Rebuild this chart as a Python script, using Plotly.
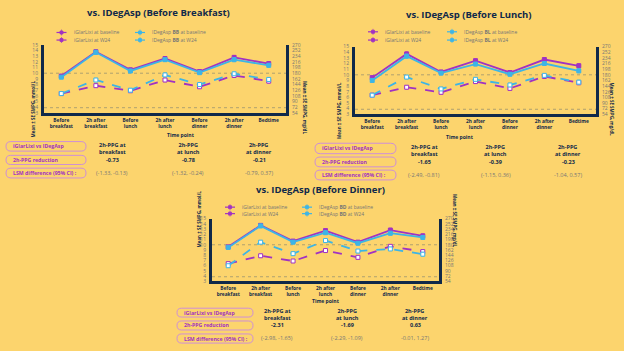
import plotly.graph_objects as go

W, H = 624, 351
BG = "#FCD46D"
NAVY = "#10294A"
PURPLE = "#A132C2"
CYAN = "#3DB5E6"
GRAY = "#767676"
PILL = "#CF8FD6"
FONT = "Open Sans"

time_points = ["Before<br>breakfast", "2h after<br>breakfast", "Before<br>lunch", "2h after<br>lunch",
               "Before<br>dinner", "2h after<br>dinner", "Bedtime"]

# Panel 1: vs IDegAsp (Before Breakfast)
glar_base1 = [9.5, 13.8, 10.6, 12.6, 10.3, 12.8, 11.7]
deg_base1 = [9.3, 13.7, 10.4, 12.4, 10.1, 12.4, 11.4]
glar_w24_1 = [6.4, 7.8, 6.9, 8.8, 7.6, 9.6, 8.6]
deg_w24_1 = [6.4, 8.8, 7.0, 9.7, 8.0, 9.9, 8.9]
# Panel 2: vs IDegAsp (Before Lunch)
glar_base2 = [9.5, 13.7, 10.5, 12.5, 10.4, 12.7, 11.6]
deg_base2 = [9.0, 13.3, 10.3, 11.9, 10.1, 12.0, 10.7]
glar_w24_2 = [6.4, 7.8, 6.9, 8.8, 7.6, 9.7, 8.6]
deg_w24_2 = [6.4, 9.6, 7.5, 9.2, 8.2, 9.9, 8.7]
# Panel 3: vs IDegAsp (Before Dinner)
glar_base3 = [9.6, 13.7, 10.7, 12.7, 10.5, 12.8, 11.7]
deg_base3 = [9.5, 13.6, 10.5, 12.3, 10.3, 12.2, 11.4]
glar_w24_3 = [6.4, 7.9, 6.9, 8.9, 7.6, 9.7, 8.7]
deg_w24_3 = [6.0, 10.5, 8.3, 10.8, 8.8, 9.2, 8.2]

err_base = [0.2, 0.35, 0.3, 0.3, 0.3, 0.35, 0.35]
err_w24 = [0.2, 0.3, 0.25, 0.3, 0.3, 0.3, 0.35]

mmol_ticks = list(range(3, 16))
mgdl_ticks = [54, 72, 90, 108, 126, 144, 162, 180, 198, 216, 234, 252, 270]
ref_lines = [10, 3.9]

titles = ["vs. IDegAsp (Before Breakfast)", "vs. IDegAsp (Before Lunch)", "vs. IDegAsp (Before Dinner)"]
deg_codes = ["BB", "BL", "BD"]

table_headers = ["2h-PPG at<br>breakfast", "2h-PPG<br>at lunch", "2h-PPG<br>at dinner"]
row_labels = ["iGlarLixi vs IDegAsp", "2h-PPG reduction", "LSM difference (95% CI) :"]
reductions = [["-0.73", "-0.78", "-0.21"], ["-1.65", "-0.39", "-0.23"], ["-2.31", "-1.69", "0.63"]]
cis = [["(-1.33, -0.13)", "(-1.32, -0.24)", "-0.79, 0.37)"],
       ["(-2.49, -0.81)", "(-1.15, 0.36)", "-1.04, 0.57)"],
       ["(-2.98, -1.65)", "(-2.29, -1.09)", "-0.01, 1.27)"]]

data = [
    (glar_base1, glar_w24_1, deg_base1, deg_w24_1),
    (glar_base2, glar_w24_2, deg_base2, deg_w24_2),
    (glar_base3, glar_w24_3, deg_base3, deg_w24_3),
]

def X(px):
    return px / W

def Y(py):
    return 1 - py / H

# layout geometry in pixels
panels = [
    dict(x0=44, x1=286, ytop=42.7, ybot=111.7, xr=[-0.5, 6.5], title=(158, 10),
         leg=dict(c1=61.5, c2=140, r1=30, r2=37.7), ylab=28, ylab2=305, tp=134.5,
         tab=dict(px0=6, px1=86, rows=[(141, 150.7), (155, 164.3), (168, 178)],
                  cols=[112, 188, 259], hy=148, vy=159.3, cy=173.3)),
    dict(x0=355, x1=596, ytop=44.3, ybot=113.3, xr=[-0.5, 6.5], title=(469, 12),
         leg=dict(c1=373, c2=452, r1=29.3, r2=37.7), ylab=339, ylab2=617, tp=136,
         tab=dict(px0=315, px1=396, rows=[(142.7, 153.3), (156.7, 166.7), (170, 180)],
                  cols=[424, 496, 568], hy=150.3, vy=161.7, cy=175)),
    dict(x0=212, x1=439, ytop=219.3, ybot=283.3, xr=[-0.5, 6.5], title=(321, 190),
         leg=dict(c1=230, c2=307, r1=207.7, r2=214.3), ylab=194, ylab2=460, tp=308,
         tab=dict(px0=177, px1=253, rows=[(310.5, 319.5), (323.5, 332.7), (336.7, 346)],
                  cols=[277, 347, 415], hy=317.4, vy=327.9, cy=341.2)),
]

fig = go.Figure()
layout = dict(width=W, height=H, margin=dict(l=0, r=0, t=0, b=0), paper_bgcolor=BG, plot_bgcolor=BG,
              showlegend=False, font=dict(family=FONT, color=NAVY))
shapes = []
annotations = []

for i, p in enumerate(panels):
    xa = "x" if i == 0 else f"x{i+1}"
    ya = "y" if i == 0 else f"y{i+1}"
    ya_r = f"y{i+4}"
    xkey = "xaxis" if i == 0 else f"xaxis{i+1}"
    ykey = "yaxis" if i == 0 else f"yaxis{i+1}"
    yrkey = f"yaxis{i+4}"
    gb, gw, db, dw = data[i]
    series = [
        (gb, PURPLE, "solid", PURPLE, err_base),
        (db, CYAN, "solid", CYAN, err_base),
        (gw, PURPLE, "dash", "white", err_w24),
        (dw, CYAN, "dash", "white", err_w24),
    ]
    for vals, col, dash, fill, err in series:
        fig.add_trace(go.Scatter(
            x=time_points, y=vals, xaxis=xa, yaxis=ya, mode="lines+markers",
            line=dict(color=col, width=1.8, dash=dash),
            marker=dict(symbol="square", size=4, color=fill, line=dict(color=col, width=1)),
            error_y=dict(type="data", array=err, color=col, thickness=0.8, width=1.5),
        ))
    fig.add_trace(go.Scatter(x=[], y=[], xaxis=xa, yaxis=ya_r, showlegend=False))

    layout[xkey] = dict(domain=[X(p["x0"]), X(p["x1"])], anchor=ya, type="category",
                        range=p["xr"], showline=True, linewidth=3, linecolor=NAVY,
                        showgrid=False, zeroline=False, ticks="",
                        tickfont=dict(size=4.8, color=NAVY, weight="bold", family=FONT),
                        ticklabelstandoff=0)
    layout[ykey] = dict(domain=[Y(p["ybot"]), Y(p["ytop"])], anchor=xa, range=[3, 15],
                        tickvals=mmol_ticks, showline=True, linewidth=3, linecolor=NAVY,
                        showgrid=False, zeroline=False, ticks="",
                        tickfont=dict(size=5, color=GRAY, family=FONT), ticklabelstandoff=2)
    layout[yrkey] = dict(overlaying=ya, side="right", anchor=xa, range=[54, 270],
                         tickvals=mgdl_ticks, showline=True, linewidth=3, linecolor=NAVY,
                         showgrid=False, zeroline=False, ticks="",
                         tickfont=dict(size=5, color=GRAY, family=FONT), ticklabelstandoff=2)

    for rv in ref_lines:
        shapes.append(dict(type="line", xref=f"{xa} domain", yref=ya, x0=0, x1=1, y0=rv, y1=rv,
                           line=dict(color="#9C9470", width=0.8, dash="dot"), layer="below"))

    # title
    annotations.append(dict(text=f"<b>{titles[i]}</b>", x=X(p["title"][0]), y=Y(p["title"][1]),
                            xref="paper", yref="paper", showarrow=False, xanchor="center", yanchor="middle",
                            font=dict(size=9.5, color=NAVY, family=FONT)))
    # axis titles
    annotations.append(dict(text="<b>Mean ± SE SMPG, mmol/L</b>", x=X(p["ylab"]), y=Y((p["ytop"] + p["ybot"]) / 2),
                            xref="paper", yref="paper", showarrow=False, textangle=-90,
                            font=dict(size=4.5, color=NAVY, family=FONT)))
    annotations.append(dict(text="<b>Mean ± SE SMPG, mg/dL</b>", x=X(p["ylab2"]), y=Y((p["ytop"] + p["ybot"]) / 2),
                            xref="paper", yref="paper", showarrow=False, textangle=90,
                            font=dict(size=4.5, color=NAVY, family=FONT)))
    annotations.append(dict(text="<b>Time point</b>", x=X((p["x0"] + p["x1"]) / 2), y=Y(p["tp"]),
                            xref="paper", yref="paper", showarrow=False,
                            font=dict(size=5, color=NAVY, family=FONT)))

    # legend
    lg = p["leg"]
    leg_items = [
        (lg["c1"], lg["r1"], PURPLE, "solid", PURPLE, "iGlarLixi at baseline"),
        (lg["c1"], lg["r2"], PURPLE, "dash", PURPLE, "iGlarLixi at W24"),
        (lg["c2"], lg["r1"], CYAN, "solid", CYAN, f"IDegAsp <b>{deg_codes[i]}</b> at baseline"),
        (lg["c2"], lg["r2"], CYAN, "dash", CYAN, f"IDegAsp <b>{deg_codes[i]}</b> at W24"),
    ]
    for cx, cy, col, dash, fill, txt in leg_items:
        shapes.append(dict(type="line", xref="paper", yref="paper", x0=X(cx - 5), x1=X(cx + 5),
                           y0=Y(cy), y1=Y(cy), line=dict(color=col, width=1.2)))
        shapes.append(dict(type="rect", xref="paper", yref="paper", x0=X(cx - 1.5), x1=X(cx + 1.5),
                           y0=Y(cy - 1.5), y1=Y(cy + 1.5), line=dict(color=col, width=0.8), fillcolor=fill))
        shapes.append(dict(type="line", xref="paper", yref="paper", x0=X(cx), x1=X(cx),
                           y0=Y(cy - 3), y1=Y(cy + 3), line=dict(color=col, width=0.7)))
        annotations.append(dict(text=txt, x=X(cx + 10), y=Y(cy), xref="paper", yref="paper",
                                showarrow=False, xanchor="left", yanchor="middle",
                                font=dict(size=5, color=GRAY, family=FONT)))

    # table
    t = p["tab"]
    for (r0, r1), lab in zip(t["rows"], row_labels):
        r = (r1 - r0) / 2
        x0, x1 = t["px0"], t["px1"]
        path = (f"M {X(x0 + r)},{Y(r0)} L {X(x1 - r)},{Y(r0)} Q {X(x1)},{Y(r0)} {X(x1)},{Y(r0 + r)} "
                f"L {X(x1)},{Y(r1 - r)} Q {X(x1)},{Y(r1)} {X(x1 - r)},{Y(r1)} "
                f"L {X(x0 + r)},{Y(r1)} Q {X(x0)},{Y(r1)} {X(x0)},{Y(r1 - r)} "
                f"L {X(x0)},{Y(r0 + r)} Q {X(x0)},{Y(r0)} {X(x0 + r)},{Y(r0)} Z")
        shapes.append(dict(type="path", xref="paper", yref="paper", path=path,
                           line=dict(color=PILL, width=1)))
        annotations.append(dict(text=f"<b>{lab}</b>", x=X(x0 + 5), y=Y((r0 + r1) / 2), xref="paper", yref="paper",
                                showarrow=False, xanchor="left", yanchor="middle",
                                font=dict(size=5.2, color=PURPLE, family=FONT)))
    for j, cxp in enumerate(t["cols"]):
        annotations.append(dict(text=f"<b>{table_headers[j]}</b>", x=X(cxp), y=Y(t["hy"]), xref="paper", yref="paper",
                                showarrow=False, xanchor="center", yanchor="middle",
                                font=dict(size=5.5, color=NAVY, family=FONT)))
        annotations.append(dict(text=f"<b>{reductions[i][j]}</b>", x=X(cxp), y=Y(t["vy"]), xref="paper", yref="paper",
                                showarrow=False, xanchor="center", yanchor="middle",
                                font=dict(size=5.5, color=NAVY, family=FONT)))
        annotations.append(dict(text=cis[i][j], x=X(cxp), y=Y(t["cy"]), xref="paper", yref="paper",
                                showarrow=False, xanchor="center", yanchor="middle",
                                font=dict(size=5.5, color=GRAY, family=FONT)))

layout["shapes"] = shapes
layout["annotations"] = annotations
fig.update_layout(**layout)
fig.write_html("out.html")
